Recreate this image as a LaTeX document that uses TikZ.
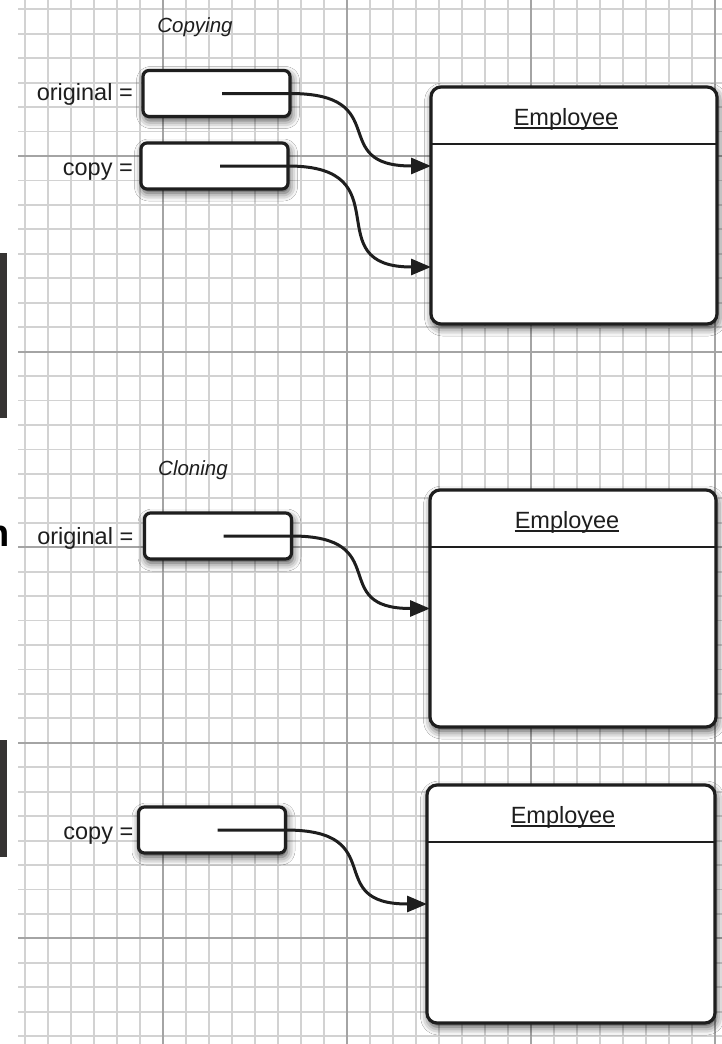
\documentclass[tikz,border=0pt]{standalone}
\usepackage{fontspec}
\setmainfont{Liberation Sans}
\usetikzlibrary{arrows.meta,positioning,shadows.blur}
\definecolor{gridfine}{HTML}{D2D2D2}
\definecolor{gridmajor}{HTML}{A4A4A4}
\definecolor{ink}{HTML}{1E1E1E}
\definecolor{edgebar}{HTML}{363433}
\tikzset{
  boxshadow/.style={blur shadow={shadow xshift=1.5pt, shadow yshift=-4pt,
    shadow blur radius=8pt, shadow opacity=75}},
  ptrbox/.style={draw=ink, line width=3.2pt, rounded corners=6pt, fill=white,
    minimum width=147pt, minimum height=46pt, inner sep=0pt, outer sep=0pt, boxshadow},
  objbox/.style={draw=ink, line width=3.2pt, rounded corners=10pt, fill=white,
    minimum width=286pt, minimum height=237pt, inner sep=0pt, outer sep=0pt, boxshadow},
  varlabel/.style={font=\fontsize{23.5}{28}\selectfont, text=ink, inner sep=0pt, anchor=base east},
  heading/.style={font=\fontsize{20.5}{24}\selectfont\itshape, text=ink, inner sep=0pt},
  classname/.style={font=\fontsize{23.5}{28}\selectfont, text=ink, inner sep=0pt, anchor=base},
  divider/.style={draw=ink, line width=2.8pt},
  uline/.style={draw=ink, line width=1.4pt},
  ref/.style={-{Triangle[length=20pt,width=16pt]}, line width=3pt, draw=ink},
  fineline/.style={draw=gridfine, line width=1.8pt},
  majorline/.style={draw=gridmajor, line width=2pt}
}

\begin{document}
\begin{tikzpicture}[x=1pt, y=-1pt]
    \useasboundingbox (0,0) rectangle (722,1044);
    \fill[white] (0,0) rectangle (722,1044);
    % graph paper
    \foreach \k in {0,...,30}
      \draw[fineline] ({25+23*\k},0) -- ({25+23*\k},1044);
    \foreach \j in {-6,...,36}
      \draw[fineline] (18,{156+24.45*\j}) -- (722,{156+24.45*\j});
    \foreach \k in {6,14,22,30}
      \draw[majorline] ({25+23*\k},0) -- ({25+23*\k},1044);
    \foreach \j in {0,8,16,24,32}
      \draw[majorline] (18,{156+24.45*\j}) -- (722,{156+24.45*\j});
    % scan edge
    \fill[edgebar] (0,253) rectangle (7,418);
    \fill[edgebar] (0,740) rectangle (7,857);
    \node[font=\bfseries\fontsize{38}{38}\selectfont, inner sep=0pt, anchor=base east] (cut) at (10,546) {n};

    % copying
    \node[heading] (copying) at (195,27) {Copying};
    \node[ptrbox] (origA) at (216.5,93.5) {};
    \node[ptrbox] (copyA) at (214.5,166) {};
    \node[varlabel] (origA-lbl) at ([xshift=-10pt, yshift=-7pt]origA.west) {original =};
    \node[varlabel] (copyA-lbl) at ([xshift=-8pt, yshift=-9pt]copyA.west) {copy =};
    \node[objbox] (empA) at (574,205.5) {};
    \draw[divider] ([yshift=-57pt]empA.north west) -- ([yshift=-57pt]empA.north east);
    \node[classname] (empA-name) at ([xshift=-8pt, yshift=-38pt]empA.north) {Employee};
    \draw[uline] ([yshift=-3pt]empA-name.base west) -- ([yshift=-3pt]empA-name.base east);
    \draw[ref] ([xshift=-68pt]origA.east) -- (origA.east) to[out=0, in=180, looseness=1.7] ([yshift=39.5pt]empA.west);
    \draw[ref] ([xshift=-68pt]copyA.east) -- (copyA.east) to[out=0, in=180, looseness=1.7] ([yshift=-61.5pt]empA.west);

    % cloning
    \node[heading] (cloning) at (193,470) {Cloning};
    \node[ptrbox] (origB) at (218,536) {};
    \node[varlabel] (origB-lbl) at ([xshift=-11pt, yshift=-8pt]origB.west) {original =};
    \node[objbox] (empB) at (573,608.5) {};
    \draw[divider] ([yshift=-57pt]empB.north west) -- ([yshift=-57pt]empB.north east);
    \node[classname] (empB-name) at ([xshift=-6pt, yshift=-38pt]empB.north) {Employee};
    \draw[uline] ([yshift=-3pt]empB-name.base west) -- ([yshift=-3pt]empB-name.base east);
    \draw[ref] ([xshift=-68pt]origB.east) -- (origB.east) to[out=0, in=180, looseness=1.7] (empB.west);

    \node[ptrbox] (copyC) at (212,830) {};
    \node[varlabel] (copyC-lbl) at ([xshift=-5pt, yshift=-9pt]copyC.west) {copy =};
    \node[objbox, minimum width=288pt, minimum height=238pt] (empC) at (571,904) {};
    \draw[divider] ([yshift=-57pt]empC.north west) -- ([yshift=-57pt]empC.north east);
    \node[classname] (empC-name) at ([xshift=-8pt, yshift=-38pt]empC.north) {Employee};
    \draw[uline] ([yshift=-3pt]empC-name.base west) -- ([yshift=-3pt]empC-name.base east);
    \draw[ref] ([xshift=-68pt]copyC.east) -- (copyC.east) to[out=0, in=180, looseness=1.7] (empC.west);
  \end{tikzpicture}
\end{document}
